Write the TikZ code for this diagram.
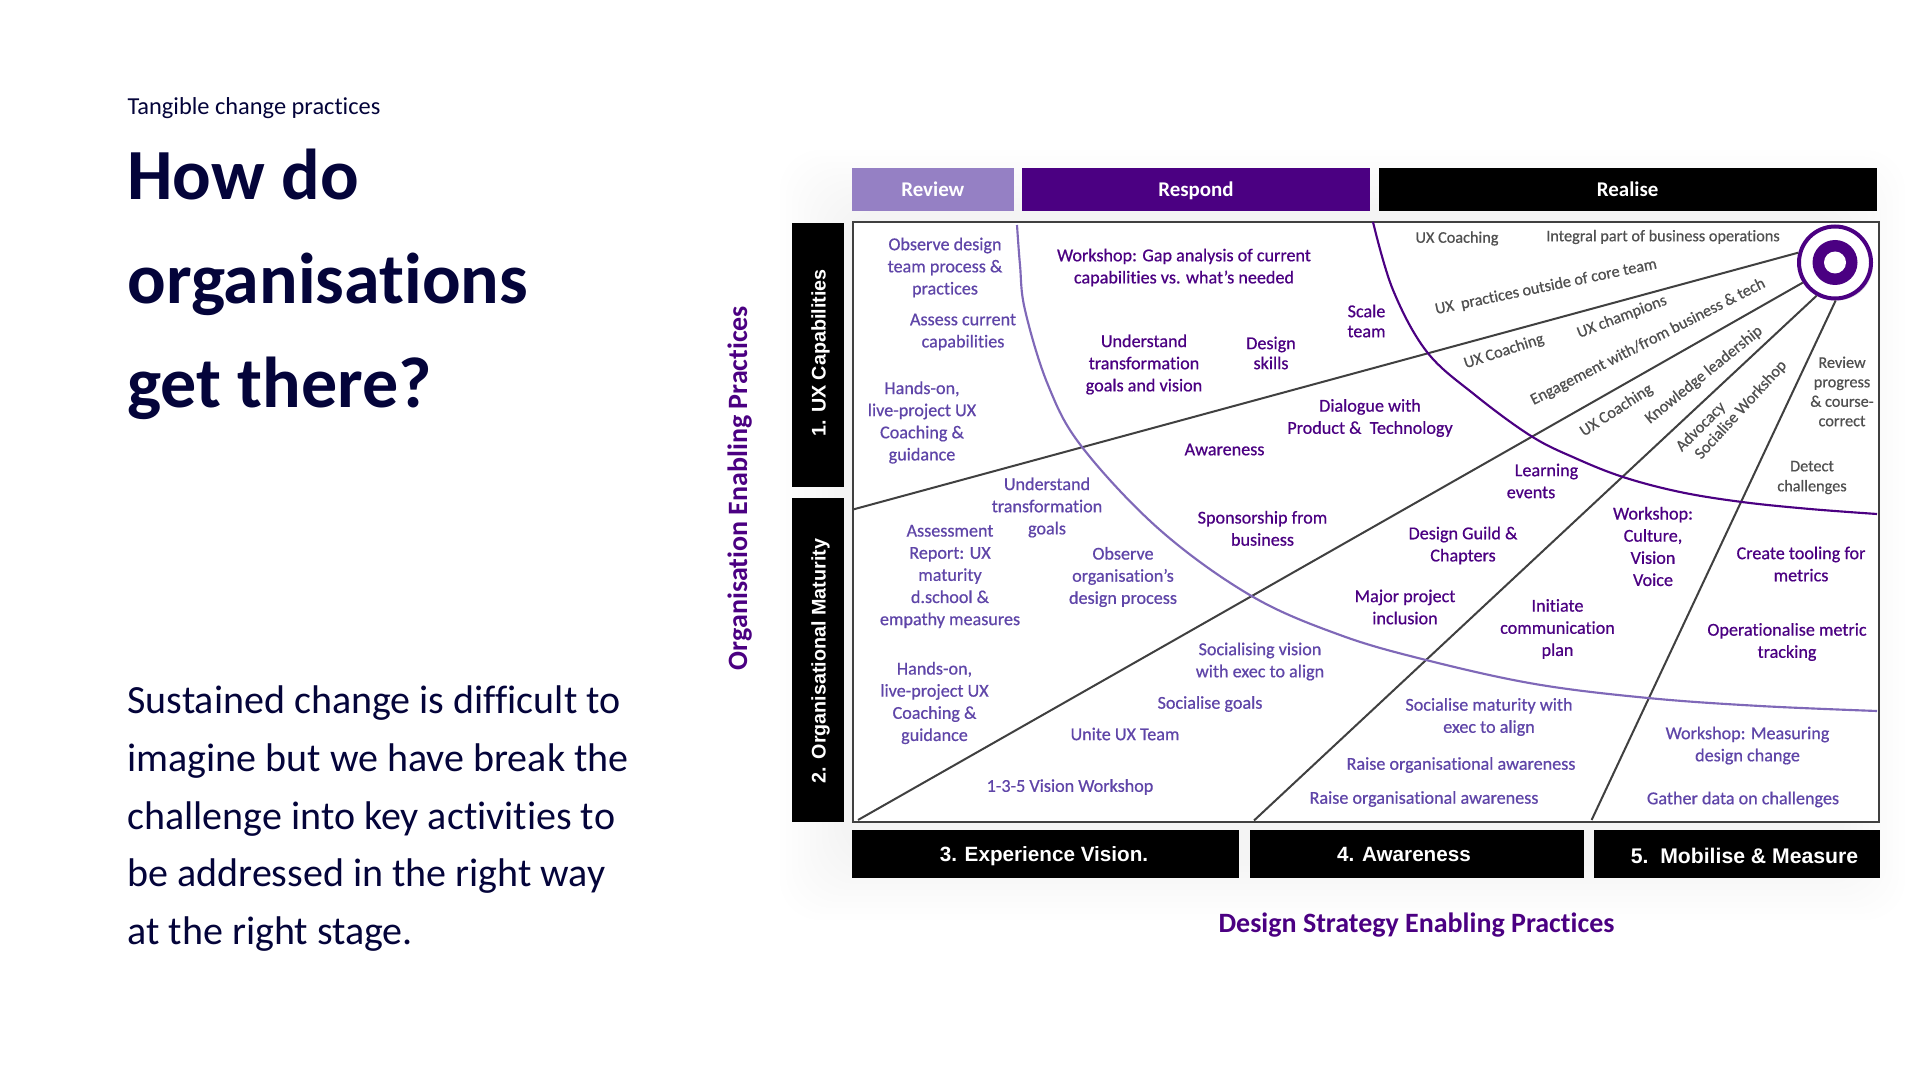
\documentclass[tikz,border=0pt]{standalone}
\usepackage{fontspec}
\setmainfont[Ligatures=NoCommon]{Carlito}
\newfontfamily\diagfont[FakeBold=0.6,Ligatures=NoCommon]{Carlito}
\newfontfamily\barfont{Liberation Sans}
\usetikzlibrary{shadows}
\definecolor{navy}{HTML}{04043A}
\definecolor{indigoD}{HTML}{4B0082}
\definecolor{violetL}{HTML}{5F45A8}
\definecolor{curveL}{HTML}{7F68B8}
\definecolor{boxL}{HTML}{9580C4}
\definecolor{grayT}{HTML}{505050}
\definecolor{lineG}{HTML}{404040}
\tikzset{
  px/.style={x=0.75pt,y=-0.75pt},
  txt/.style={inner sep=0pt,outer sep=0pt,align=center,font=\diagfont\fontsize{13.6}{16.6}\selectfont},
  lt/.style={txt,text=violetL},
  dk/.style={txt,text=indigoD},
  gr/.style={txt,text=grayT,font=\diagfont\fontsize{12.2}{15}\selectfont},
  rr/.style={gr,font=\diagfont\fontsize{12.2}{14}\selectfont},
  leftT/.style={inner sep=0pt,outer sep=0pt,anchor=base west,text=navy},
  head/.style={anchor=base,font=\bfseries\fontsize{15.7}{16}\selectfont,text=white},
  bar/.style={font=\barfont\bfseries\fontsize{14.8}{16}\selectfont,text=white},
  barB/.style={bar,font=\barfont\bfseries\fontsize{15.5}{16}\selectfont},
  divider/.style={draw=lineG,line width=1.5pt},
  axis/.style={inner sep=0pt,text=indigoD,font=\bfseries\fontsize{21}{22}\selectfont},
  bodyT/.style={leftT,font=\fontsize{30}{32}\selectfont},
  titleT/.style={leftT,font=\bfseries\fontsize{54}{56}\selectfont},
}
\begin{document}
\begin{tikzpicture}[px]
\useasboundingbox (0,0) rectangle (1920,1080);
\fill[white] (0,0) rectangle (1920,1080);
% faint glow behind the diagram
\foreach \g in {0,6,...,60}{
  \fill[black,opacity=0.0025,rounded corners=30pt] (780+\g,150+\g) rectangle (1905-\g,920-\g);
}
% left column
\node[leftT,font=\fontsize{18.3}{20}\selectfont] (kicker) at (127.5,114.5) {Tangible change practices};
\node[titleT] (h1) at (127.5,200) {How do};
\node[titleT] (h2) at (127.5,303.5) {organisations};
\node[titleT] (h3) at (127.5,407.5) {get there?};
\node[bodyT] (b1) at (127.5,713.5) {Sustained change is difficult to};
\node[bodyT] (b2) at (127.5,771.5) {imagine but we have break the};
\node[bodyT] (b3) at (127.5,829) {challenge into key activities to};
\node[bodyT] (b4) at (127.5,886.5) {be addressed in the right way};
\node[bodyT] (b5) at (127.5,944) {at the right stage.};
% phase bars
\fill[boxL] (851.6,168) rectangle (1014,211);
\fill[indigoD] (1022,168) rectangle (1370,211);
\fill[black] (1379,168) rectangle (1876.5,211);
\node[head] (review) at (932.8,197) {Review};
\node[head] (respond) at (1196,197) {Respond};
\node[head] (realise) at (1627.7,197) {Realise};
% side bars
\fill[black] (792,223) rectangle (843.7,487);
\fill[black] (792,498) rectangle (843.7,822);
\node[bar,rotate=90] (ux) at (820.5,353) {1. UX Capabilities};
\node[bar,rotate=90] (org) at (820.5,661) {2. Organisational Maturity};
% bottom bars
\fill[black] (851.6,830) rectangle (1238.5,878);
\fill[black] (1249.6,830) rectangle (1584,878);
\fill[black] (1594,830) rectangle (1880,878);
\node[barB] (exp) at (1044,856) {3. Experience Vision.};
\node[barB] (awa) at (1404,854) {4. Awareness};
\node[barB,font=\barfont\bfseries\fontsize{15.9}{16}\selectfont] (mob) at (1744.5,855.5) {5.\ \ Mobilise \& Measure};
% frame
\node[draw=lineG,fill=white,line width=1.5pt,minimum width=1026*0.75pt,minimum height=600*0.75pt,inner sep=0pt,anchor=north west] (frame) at (852,221) {};
% target
\node[circle,draw=indigoD,fill=white,line width=3pt,minimum size=72*0.75pt,inner sep=0pt,drop shadow={opacity=0.3,shadow xshift=1.5pt,shadow yshift=-1.5pt}] (target) at (1835,262.5) {};
\coordinate (l1) at (853,509.5);
\coordinate (l2) at (858,820);
\coordinate (l3) at (1254,820.5);
\coordinate (l4) at (1591.6,820);
\draw[divider] (l1) -- (target.165);
\draw[divider] (l2) -- (target.212);
\draw[divider] (l3) -- (target.241);
\draw[divider] (l4) -- (target.271);
\draw[curveL,line width=1.6pt] plot[smooth,tension=0.6] coordinates {(1017,225) (1020,265) (1025,310) (1048,385) (1082,447) (1160,530) (1251.5,596) (1340,635) (1426,660) (1535,684) (1648,698) (1760,706) (1877,711)};
\draw[indigoD,line width=1.6pt] plot[smooth,tension=0.6] coordinates {(1373,222) (1393,290) (1427,352) (1475,395) (1531,436) (1575,458) (1623,477) (1680,492) (1742,502) (1810,509) (1877,514)};
\fill[indigoD] (target.center) circle[radius=22.5];
\fill[white] (target.center) circle[radius=11];
% light labels
\node[lt] (a1) at (945,267.5) {Observe design\\team process \&\\practices};
\node[lt] (a2) at (963,332) {Assess current\\capabilities};
\node[lt] (a3) at (922,422.5) {Hands-on,\\live-project UX\\Coaching \&\\guidance};
\node[lt] (a4) at (1047,507.5) {Understand\\transformation\\goals};
\node[lt] (a5) at (950,576.5) {Assessment\\Report: UX\\maturity\\d.school \&\\empathy measures};
\node[lt] (a6) at (1123,577) {Observe\\organisation’s\\design process};
\node[lt] (a7) at (934.5,703) {Hands-on,\\live-project UX\\Coaching \&\\guidance};
\node[lt] (a8) at (1260,661.5) {Socialising vision\\with exec to align};
\node[lt] (a9) at (1210,704) {Socialise goals};
\node[lt] (a10) at (1125,734) {Unite UX Team};
\node[lt] (a11) at (1070,787) {1-3-5 Vision Workshop};
\node[lt] (a12) at (1489,717) {Socialise maturity with\\exec to align};
\node[lt] (a13) at (1461,765) {Raise organisational awareness};
\node[lt] (a14) at (1424,799) {Raise organisational awareness};
\node[lt] (a15) at (1747.5,745.5) {Workshop: Measuring\\design change};
\node[lt] (a16) at (1743,799.5) {Gather data on challenges};
% dark labels
\node[dk] (d1) at (1184,267.5) {Workshop: Gap analysis of current\\capabilities vs. what’s needed};
\node[dk] (d2) at (1144,364.5) {Understand\\transformation\\goals and vision};
\node[dk,font=\diagfont\fontsize{13.6}{15}\selectfont] (d3) at (1271,353) {Design\\skills};
\node[dk,font=\diagfont\fontsize{13.6}{15}\selectfont] (d4) at (1366.5,321) {Scale\\team};
\node[dk] (d5) at (1370,418) {Dialogue with\\Product \&\ \ Technology};
\node[dk] (d6) at (1224.5,449.5) {Awareness};
\node[dk] (d7) at (1546.5,471.5) {Learning};
\node[dk] (d7b) at (1531,492.5) {events};
\node[dk] (d8) at (1262.5,528.4) {Sponsorship from\\business};
\node[dk] (d9) at (1463,545.5) {Design Guild \&\\Chapters};
\node[dk] (d10) at (1405,607) {Major project\\inclusion};
\node[dk] (d11) at (1653,546.5) {Workshop:\\Culture,\\Vision\\Voice};
\node[dk] (d12) at (1557.5,629) {Initiate\\communication\\plan};
\node[dk] (d13) at (1801,564) {Create tooling for\\metrics};
\node[dk] (d14) at (1787,642) {Operationalise metric\\tracking};
% gray labels
\node[gr] (g1) at (1457,238.5) {UX Coaching};
\node[gr] (g2) at (1663,237) {Integral part of business operations};
\node[gr,font=\diagfont\fontsize{12.2}{14.6}\selectfont] (g3) at (1842,391.5) {Review\\progress\\\& course-\\correct};
\node[gr] (g4) at (1812,477.5) {Detect\\challenges};
\node[rr,rotate=11.7] (r1) at (1546,287) {UX\ \ practices outside of core team};
\node[rr,rotate=18] (r2) at (1504,351.5) {UX Coaching};
\node[rr,rotate=21] (r3) at (1622,317) {UX champions};
\node[rr,rotate=27] (r4) at (1648,342) {Engagement with/from business \& tech};
\node[rr,rotate=33] (r5) at (1616.5,410.5) {UX Coaching};
\node[rr,rotate=39] (r6) at (1704,375) {Knowledge leadership};
\node[rr,rotate=45] (r7) at (1701,427) {Advocacy};
\node[rr,rotate=47.5] (r8) at (1741,410) {Socialise Workshop};
% axis titles
\node[axis,rotate=90] (yaxis) at (739.6,488) {Organisation Enabling Practices};
\node[axis] (xaxis) at (1416.5,925) {Design Strategy Enabling Practices};
\end{tikzpicture}
\end{document}
